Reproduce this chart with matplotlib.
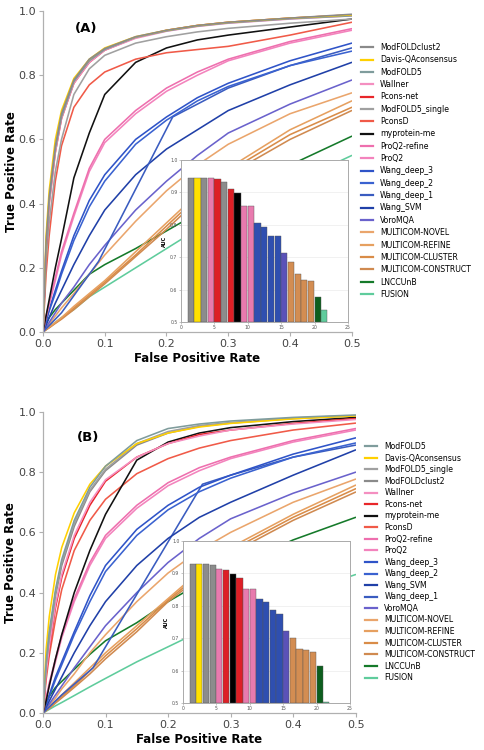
import matplotlib
matplotlib.use("Agg")
import matplotlib.pyplot as plt
from matplotlib.lines import Line2D

# common FPR grid the TPR values were read at
fpr_grid = [0, 0.005, 0.01, 0.02, 0.03, 0.05, 0.075, 0.1, 0.15, 0.2, 0.25, 0.3, 0.4, 0.5]

# ---------------- panel A ----------------
names_a = ["ModFOLDclust2", "Davis-QAconsensus", "ModFOLD5", "Wallner", "Pcons-net",
           "ModFOLD5_single", "PconsD", "myprotein-me", "ProQ2-refine", "ProQ2",
           "Wang_deep_3", "Wang_deep_2", "Wang_deep_1", "Wang_SVM", "VoroMQA",
           "MULTICOM-NOVEL", "MULTICOM-REFINE", "MULTICOM-CLUSTER", "MULTICOM-CONSTRUCT",
           "LNCCUnB", "FUSION"]
auc_a = [0.945, 0.945, 0.943, 0.943, 0.941, 0.933, 0.909, 0.899, 0.859, 0.858,
         0.804, 0.793, 0.766, 0.764, 0.713, 0.686, 0.649, 0.631, 0.627, 0.577, 0.538]
tpr_a = {
    "ModFOLDclust2":      [0, 0.28, 0.42, 0.58, 0.68, 0.785, 0.85, 0.883, 0.92, 0.94, 0.955, 0.965, 0.978, 0.99],
    "Davis-QAconsensus":  [0, 0.30, 0.44, 0.60, 0.69, 0.79, 0.85, 0.885, 0.92, 0.94, 0.955, 0.965, 0.978, 0.988],
    "ModFOLD5":           [0, 0.27, 0.41, 0.57, 0.67, 0.78, 0.845, 0.88, 0.918, 0.938, 0.953, 0.963, 0.976, 0.985],
    "Wallner":            [0, 0.27, 0.40, 0.56, 0.665, 0.775, 0.84, 0.878, 0.915, 0.937, 0.952, 0.962, 0.975, 0.985],
    "Pcons-net":          [0, 0.26, 0.40, 0.56, 0.665, 0.775, 0.84, 0.878, 0.917, 0.94, 0.955, 0.965, 0.978, 0.988],
    "ModFOLD5_single":    [0, 0.22, 0.34, 0.50, 0.60, 0.74, 0.82, 0.862, 0.90, 0.92, 0.935, 0.946, 0.962, 0.975],
    "PconsD":             [0, 0.18, 0.30, 0.47, 0.58, 0.70, 0.77, 0.81, 0.85, 0.87, 0.88, 0.89, 0.925, 0.965],
    "myprotein-me":       [0, 0.05, 0.10, 0.20, 0.29, 0.48, 0.62, 0.74, 0.84, 0.885, 0.91, 0.925, 0.95, 0.975],
    "ProQ2-refine":       [0, 0.05, 0.09, 0.17, 0.25, 0.37, 0.51, 0.60, 0.69, 0.76, 0.81, 0.85, 0.905, 0.945],
    "ProQ2":              [0, 0.045, 0.085, 0.16, 0.24, 0.36, 0.50, 0.59, 0.68, 0.75, 0.80, 0.845, 0.90, 0.94],
    "Wang_deep_3":        [0, 0.035, 0.07, 0.13, 0.19, 0.30, 0.41, 0.49, 0.60, 0.67, 0.73, 0.775, 0.845, 0.90],
    "Wang_deep_2":        [0, 0.033, 0.065, 0.12, 0.18, 0.285, 0.39, 0.47, 0.585, 0.66, 0.72, 0.765, 0.83, 0.875],
    "Wang_deep_1":        [0, 0.06, 0.22, 0.67, 0.76, 0.83, 0.885],
    "Wang_SVM":           [0, 0.022, 0.045, 0.09, 0.13, 0.21, 0.30, 0.38, 0.49, 0.57, 0.63, 0.69, 0.77, 0.84],
    "VoroMQA":            [0, 0.015, 0.03, 0.06, 0.09, 0.14, 0.21, 0.27, 0.38, 0.47, 0.55, 0.62, 0.71, 0.785],
    "MULTICOM-NOVEL":     [0, 0.012, 0.025, 0.05, 0.075, 0.12, 0.18, 0.24, 0.345, 0.44, 0.52, 0.585, 0.68, 0.745],
    "MULTICOM-REFINE":    [0, 0.008, 0.016, 0.03, 0.045, 0.08, 0.12, 0.16, 0.25, 0.34, 0.43, 0.51, 0.63, 0.72],
    "MULTICOM-CLUSTER":   [0, 0.007, 0.014, 0.028, 0.042, 0.075, 0.115, 0.155, 0.24, 0.33, 0.42, 0.50, 0.615, 0.70],
    "MULTICOM-CONSTRUCT": [0, 0.007, 0.013, 0.027, 0.04, 0.07, 0.11, 0.15, 0.235, 0.32, 0.41, 0.49, 0.60, 0.69],
    "LNCCUnB":            [0, 0.025, 0.045, 0.07, 0.09, 0.13, 0.18, 0.21, 0.26, 0.315, 0.37, 0.42, 0.52, 0.61],
    "FUSION":             [0, 0.008, 0.016, 0.03, 0.045, 0.07, 0.11, 0.14, 0.20, 0.26, 0.32, 0.37, 0.46, 0.55],
}
# curves with few operating points (straight segments)
fpr_a = {"Wang_deep_1": [0, 0.03, 0.09, 0.21, 0.3, 0.4, 0.5]}

# ---------------- panel B ----------------
names_b = ["ModFOLD5", "Davis-QAconsensus", "ModFOLD5_single", "ModFOLDclust2", "Wallner",
           "Pcons-net", "myprotein-me", "PconsD", "ProQ2-refine", "ProQ2",
           "Wang_deep_3", "Wang_deep_2", "Wang_SVM", "Wang_deep_1", "VoroMQA",
           "MULTICOM-NOVEL", "MULTICOM-REFINE", "MULTICOM-CLUSTER", "MULTICOM-CONSTRUCT",
           "LNCCUnB", "FUSION"]
auc_b = [0.929, 0.929, 0.929, 0.926, 0.914, 0.909, 0.899, 0.885, 0.852, 0.852,
         0.821, 0.811, 0.786, 0.774, 0.722, 0.702, 0.667, 0.662, 0.658, 0.613, 0.502]
tpr_b = {
    "ModFOLD5":           [0, 0.17, 0.27, 0.41, 0.51, 0.64, 0.75, 0.82, 0.905, 0.945, 0.96, 0.97, 0.982, 0.99],
    "Davis-QAconsensus":  [0, 0.21, 0.32, 0.46, 0.55, 0.665, 0.76, 0.82, 0.895, 0.93, 0.95, 0.962, 0.977, 0.987],
    "ModFOLD5_single":    [0, 0.16, 0.26, 0.40, 0.50, 0.63, 0.74, 0.81, 0.895, 0.935, 0.955, 0.965, 0.98, 0.988],
    "ModFOLDclust2":      [0, 0.16, 0.25, 0.39, 0.49, 0.62, 0.735, 0.805, 0.89, 0.93, 0.952, 0.963, 0.978, 0.987],
    "Wallner":            [0, 0.13, 0.22, 0.36, 0.46, 0.59, 0.70, 0.775, 0.85, 0.895, 0.92, 0.94, 0.96, 0.975],
    "Pcons-net":          [0, 0.13, 0.21, 0.35, 0.45, 0.58, 0.69, 0.77, 0.85, 0.895, 0.925, 0.94, 0.962, 0.978],
    "myprotein-me":       [0, 0.04, 0.09, 0.18, 0.26, 0.40, 0.54, 0.66, 0.84, 0.90, 0.93, 0.948, 0.968, 0.982],
    "PconsD":             [0, 0.11, 0.19, 0.31, 0.41, 0.54, 0.64, 0.71, 0.795, 0.845, 0.88, 0.905, 0.94, 0.963],
    "ProQ2-refine":       [0, 0.05, 0.10, 0.18, 0.26, 0.38, 0.50, 0.59, 0.69, 0.765, 0.815, 0.85, 0.905, 0.945],
    "ProQ2":              [0, 0.045, 0.09, 0.17, 0.25, 0.37, 0.49, 0.58, 0.68, 0.755, 0.805, 0.845, 0.90, 0.94],
    "Wang_deep_3":        [0, 0.03, 0.06, 0.12, 0.17, 0.27, 0.39, 0.49, 0.61, 0.69, 0.75, 0.79, 0.86, 0.914],
    "Wang_deep_2":        [0, 0.028, 0.055, 0.11, 0.16, 0.26, 0.37, 0.47, 0.59, 0.675, 0.735, 0.78, 0.85, 0.897],
    "Wang_SVM":           [0, 0.02, 0.04, 0.08, 0.12, 0.20, 0.29, 0.37, 0.49, 0.58, 0.65, 0.70, 0.79, 0.874],
    "Wang_deep_1":        [0, 0.06, 0.15, 0.76, 0.79, 0.85, 0.89],
    "VoroMQA":            [0, 0.015, 0.03, 0.06, 0.09, 0.15, 0.22, 0.29, 0.40, 0.50, 0.58, 0.645, 0.73, 0.80],
    "MULTICOM-NOVEL":     [0, 0.012, 0.025, 0.05, 0.08, 0.13, 0.20, 0.26, 0.37, 0.465, 0.54, 0.60, 0.70, 0.777],
    "MULTICOM-REFINE":    [0, 0.01, 0.02, 0.04, 0.06, 0.10, 0.15, 0.20, 0.29, 0.38, 0.47, 0.55, 0.66, 0.757],
    "MULTICOM-CLUSTER":   [0, 0.008, 0.016, 0.035, 0.055, 0.09, 0.14, 0.19, 0.28, 0.375, 0.46, 0.54, 0.65, 0.745],
    "MULTICOM-CONSTRUCT": [0, 0.008, 0.015, 0.033, 0.05, 0.085, 0.13, 0.18, 0.27, 0.37, 0.45, 0.53, 0.64, 0.734],
    "LNCCUnB":            [0, 0.03, 0.055, 0.085, 0.105, 0.145, 0.195, 0.24, 0.30, 0.37, 0.43, 0.48, 0.575, 0.65],
    "FUSION":             [0, 0.006, 0.012, 0.024, 0.035, 0.058, 0.087, 0.115, 0.17, 0.22, 0.27, 0.31, 0.39, 0.46],
}
fpr_b = {"Wang_deep_1": [0, 0.03, 0.08, 0.255, 0.3, 0.4, 0.5]}

# colours per method (line colour, bar colour)
line_color = {
    "ModFOLDclust2": "#8a8a8a", "ModFOLD5": "#7f9c9c", "ModFOLD5_single": "#a0a0a0",
    "Davis-QAconsensus": "#ffd000", "Wallner": "#f48fc0", "Pcons-net": "#e8262a",
    "PconsD": "#f05a48", "myprotein-me": "#111111", "ProQ2-refine": "#ee6fae",
    "ProQ2": "#f383bd", "Wang_deep_3": "#2f54c8", "Wang_deep_2": "#3a62d0",
    "Wang_deep_1": "#3a5cc0", "Wang_SVM": "#2040a8", "VoroMQA": "#6a62cc",
    "MULTICOM-NOVEL": "#eaa56c", "MULTICOM-REFINE": "#e6a060", "MULTICOM-CLUSTER": "#d98c48",
    "MULTICOM-CONSTRUCT": "#d08a50", "LNCCUnB": "#157a2a", "FUSION": "#5fcc9c",
}
bar_color = {
    "ModFOLDclust2": "#8c8c8c", "ModFOLD5": "#8c8c8c", "ModFOLD5_single": "#8c8c8c",
    "Davis-QAconsensus": "#ffe000", "Wallner": "#e87aae", "Pcons-net": "#dd1f26",
    "PconsD": "#dd1f26", "myprotein-me": "#000000", "ProQ2-refine": "#e87aae",
    "ProQ2": "#e87aae", "Wang_deep_3": "#2f4fb0", "Wang_deep_2": "#2f4fb0",
    "Wang_deep_1": "#2f4fb0", "Wang_SVM": "#2f4fb0", "VoroMQA": "#5a52b8",
    "MULTICOM-NOVEL": "#d38d52", "MULTICOM-REFINE": "#d38d52", "MULTICOM-CLUSTER": "#d38d52",
    "MULTICOM-CONSTRUCT": "#d38d52", "LNCCUnB": "#0d5e1e", "FUSION": "#5fcc9c",
}

SPINE = "#b0b0b0"
TICK = "#444444"


def draw_panel(fig, rect, inset_rect, names, tpr, fpr_special, auc, tag, tag_xy, leg_anchor, leg_spacing):
    ax = fig.add_axes(rect)
    handles = []
    for name in reversed(names):
        xs = fpr_special.get(name, fpr_grid)
        ax.plot(xs, tpr[name], color=line_color[name], lw=1.15, solid_capstyle="round")
    for name in names:
        handles.append(Line2D([0], [0], color=line_color[name], lw=1.6))

    ax.set_xlim(0, 0.5)
    ax.set_ylim(0, 1.0)
    ax.set_xticks([0, 0.1, 0.2, 0.3, 0.4, 0.5])
    ax.set_yticks([0, 0.2, 0.4, 0.6, 0.8, 1.0])
    ax.set_xticklabels(["0.0", "0.1", "0.2", "0.3", "0.4", "0.5"])
    ax.set_yticklabels(["0.0", "0.2", "0.4", "0.6", "0.8", "1.0"])
    for s in ["top", "right"]:
        ax.spines[s].set_visible(False)
    for s in ["left", "bottom"]:
        ax.spines[s].set_color(SPINE)
        ax.spines[s].set_linewidth(0.9)
    ax.tick_params(labelsize=8, colors=SPINE, labelcolor=TICK, length=3, width=0.8, pad=2)
    ax.set_xlabel("False Positive Rate", fontsize=8.5, fontweight="bold", labelpad=2)
    ax.set_ylabel("True Positive Rate", fontsize=8.5, fontweight="bold")
    ax.yaxis.set_label_coords(-0.082, 0.5)
    ax.text(tag_xy[0], tag_xy[1], tag, fontsize=9.5, fontweight="bold", transform=ax.transData)

    fig.legend(handles, names, loc="upper left", bbox_to_anchor=leg_anchor, frameon=False,
               fontsize=5.6, handlelength=1.6, handletextpad=0.9, labelspacing=leg_spacing,
               borderaxespad=0, borderpad=0)

    # AUC bar inset
    ins = fig.add_axes(inset_rect)
    ins.set_facecolor("white")
    positions = list(range(1, len(names) + 1))
    ins.bar(positions, [a - 0.5 for a in auc], bottom=0.5, width=0.92, align="edge",
            color=[bar_color[n] for n in names], edgecolor="#555555", linewidth=0.3, zorder=3)
    ins.set_xlim(0, 25)
    ins.set_ylim(0.5, 1.0)
    ins.set_xticks([0, 5, 10, 15, 20, 25])
    ins.set_yticks([0.5, 0.6, 0.7, 0.8, 0.9, 1.0])
    ins.grid(axis="y", color="#e6e6e6", lw=0.4, zorder=0)
    ins.tick_params(labelsize=3.3, length=1.5, width=0.4, pad=1, colors="#999999", labelcolor="#555555")
    for s in ins.spines.values():
        s.set_color("#aaaaaa")
        s.set_linewidth(0.7)
    ins.set_ylabel("AUC", fontsize=3.5, fontweight="bold", labelpad=2)
    return ax


fig = plt.figure(figsize=(4.84, 7.5), dpi=100)

draw_panel(fig, [0.0888, 0.5573, 0.638, 0.428], [0.374, 0.5707, 0.345, 0.216],
           names_a, tpr_a, fpr_a, auc_a, "(A)", (0.052, 0.935),
           (0.745, 1 - 43.0 / 750), 0.43)
draw_panel(fig, [0.0888, 0.0493, 0.646, 0.4014], [0.378, 0.0627, 0.345, 0.216],
           names_b, tpr_b, fpr_b, auc_b, "(B)", (0.055, 0.905),
           (0.754, 1 - 442.0 / 750), 0.33)

fig.savefig("out.png", dpi=100)
